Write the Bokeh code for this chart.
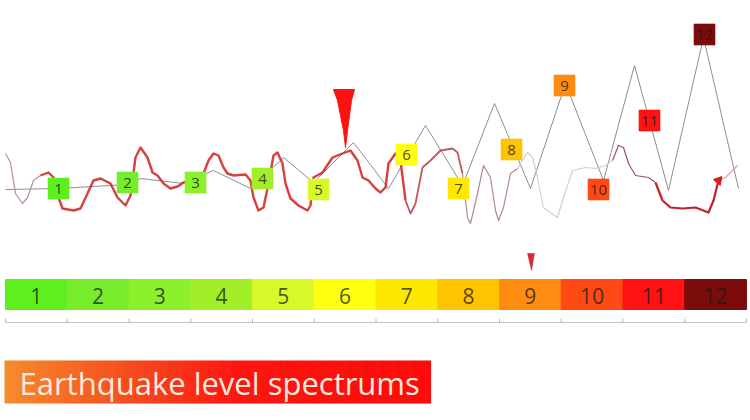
from bokeh.plotting import figure
from bokeh.models import Range1d, ColumnDataSource
from bokeh.core.properties import value
from bokeh.embed import file_html
from bokeh.resources import INLINE

# ---------------- data (picture pixel coordinates) ----------------
levels = ["1", "2", "3", "4", "5", "6", "7", "8", "9", "10", "11", "12"]
level_colors = ["#5ef01e", "#76ec2a", "#8cf02a", "#a2ee28", "#d8f82a", "#ffff12",
                "#ffe800", "#ffc400", "#ff8c10", "#ff4a16", "#ff1212", "#7c0c0c"]

# markers along the spectrum (label centre)
marker_x = [58, 127, 195, 262, 318, 406, 458, 511, 564, 598, 649, 704]
marker_y = [188, 182, 182, 178, 189, 154, 188, 149, 85, 189, 120, 34]

# grey zig-zag envelope
env_x = [5, 58, 127, 140, 183, 213, 250, 283, 313, 353, 388, 425, 462, 494, 530, 565, 603, 634, 668, 703, 738]
env_y = [189, 188, 184, 178, 183, 170, 188, 157, 182, 142, 188, 125, 185, 103, 188, 83, 180, 65, 190, 37, 188]

# seismic trace, split into stretches of different intensity
wave_a_x = [5, 10, 15, 22, 27, 33, 40]
wave_a_y = [153, 162, 193, 203, 197, 180, 175]
wave_b_x = [40, 48, 53, 58, 62, 73, 80, 87, 93, 100, 110, 117, 125, 130, 135, 140, 147, 152, 157, 163,
            170, 177, 183, 195, 203, 208, 213, 218, 223, 227, 233, 245, 250, 253, 258, 263, 268, 273,
            277, 282, 285, 290, 298, 307, 310, 313, 322, 332, 342, 350, 357, 362, 368, 375, 380, 385,
            388, 395, 400, 405]
wave_b_y = [175, 172, 177, 197, 208, 210, 208, 193, 180, 178, 183, 197, 205, 195, 157, 147, 157, 172, 175, 183,
            188, 186, 182, 178, 173, 160, 153, 155, 167, 173, 175, 174, 180, 197, 210, 207, 183, 155,
            152, 163, 183, 198, 205, 210, 205, 177, 172, 157, 153, 150, 160, 177, 180, 188, 192, 187,
            163, 153, 160, 200]
wave_c_x = [405, 410, 415, 422, 430, 440, 452, 457, 462]
wave_c_y = [200, 213, 203, 167, 160, 150, 148, 152, 173]
wave_d_x = [462, 467, 470, 477, 483, 490, 495, 498, 503, 510, 517]
wave_d_y = [173, 217, 223, 193, 165, 177, 210, 220, 207, 173, 168]
wave_e_x = [517, 527, 532, 537, 543, 557, 563, 572, 585, 595, 605, 612]
wave_e_y = [168, 152, 157, 177, 207, 217, 197, 170, 167, 168, 165, 160]
wave_f_x = [612, 618, 623, 628, 635, 648, 655]
wave_f_y = [160, 145, 147, 163, 175, 177, 182]
wave_g_x = [655, 662, 670, 682, 695, 708, 713, 718]
wave_g_y = [182, 200, 207, 208, 207, 212, 200, 180]
wave_h_x = [718, 725, 732, 737]
wave_h_y = [180, 177, 170, 165]

# big red pointer and small pointer over the scale
pointer_x = [333, 354, 351, 349, 347, 345, 343, 340, 337]
pointer_y = [89, 89, 100, 115, 130, 147, 130, 115, 100]
small_pointer_x = [527, 534, 531]
small_pointer_y = [253, 253, 270]

# scale bar extent
scale_left, scale_right = 5, 746
scale_top, scale_bottom = 279, 309
axis_y = 322

title_text = "Earthquake level spectrums"
title_left, title_right, title_top, title_bottom = 4, 430, 360, 403
title_stops = [(0.0, "#f58c2c"), (0.3, "#f64a1e"), (0.55, "#ff1410"), (1.0, "#ff0a0a")]

# ---------------- figure ----------------
W, H = 750, 420
p = figure(width=W, height=H, x_range=Range1d(0, W), y_range=Range1d(H, 0),
           x_axis_type=None, y_axis_type=None, toolbar_location=None,
           output_backend="svg", min_border=0)
p.grid.visible = False
p.outline_line_color = None
p.background_fill_color = "white"
p.border_fill_color = "white"

# envelope
p.line(env_x, env_y, line_color="#7a7a7a", line_width=1, line_alpha=0.85)

# wave
p.line(wave_a_x, wave_a_y, line_color="#b89090", line_width=1.2, line_join="round")
p.line(wave_b_x, wave_b_y, line_color="#d42a2a", line_width=2.4, line_join="round", line_alpha=0.9)
p.line(wave_c_x, wave_c_y, line_color="#b83a48", line_width=1.8, line_join="round", line_alpha=0.85)
p.line(wave_d_x, wave_d_y, line_color="#b08890", line_width=1.2, line_join="round")
p.line(wave_e_x, wave_e_y, line_color="#d8cccc", line_width=1.2, line_join="round")
p.line(wave_f_x, wave_f_y, line_color="#a05060", line_width=1.2, line_join="round")
p.line(wave_g_x, wave_g_y, line_color="#c81e28", line_width=2.2, line_join="round")
p.line(wave_h_x, wave_h_y, line_color="#d8a0a0", line_width=1.2, line_join="round")
p.scatter([wave_g_x[-1]], [wave_g_y[-1]], marker="triangle", size=9, angle=-0.7,
          fill_color="#e01818", line_color="#e01818")

# pointers
p.patch(pointer_x, pointer_y, fill_color="#ff1010", line_color="#ff1010", line_width=1)
p.patch(small_pointer_x, small_pointer_y, fill_color="#d8283c", line_color="#d8283c", line_width=0.5)

# level markers
msrc = ColumnDataSource(dict(x=marker_x, y=marker_y, c=level_colors, t=levels))
p.rect(x="x", y="y", width=21, height=21, fill_color="c", line_color="c", line_alpha=0.6, source=msrc)
p.text(x="x", y="y", text="t", text_align="center", text_baseline="middle",
       text_font=value("Open Sans"), text_font_size="15px", text_color="#1a1a1a", text_alpha=0.8, source=msrc)

# scale bar
n = len(levels)
seg = (scale_right - scale_left) / n
lefts = [scale_left + i * seg for i in range(n)]
rights = [l + seg for l in lefts]
centers = [l + seg / 2 for l in lefts]
ssrc = ColumnDataSource(dict(left=lefts, right=rights, cx=centers, c=level_colors, t=levels))
p.quad(left="left", right="right", top=scale_top, bottom=scale_bottom, fill_color="c",
       line_color="c", source=ssrc)
p.text(x="cx", y=(scale_top + scale_bottom) / 2 + 1, text="t", text_align="center",
       text_baseline="middle", text_font=value("Open Sans"), text_font_size="21px",
       text_color="#1a1a1a", text_alpha=0.75, source=ssrc)

# axis under the scale
bounds = lefts + [scale_right]
p.segment(x0=[scale_left], y0=[axis_y], x1=[scale_right], y1=[axis_y], line_color="#c4c4c4", line_width=1)
p.segment(x0=bounds, y0=[axis_y - 4] * len(bounds), x1=bounds, y1=[axis_y] * len(bounds),
          line_color="#b8b8b8", line_width=1)

# title banner with gradient
def lerp_color(c1, c2, t):
    a = [int(c1[i:i + 2], 16) for i in (1, 3, 5)]
    b = [int(c2[i:i + 2], 16) for i in (1, 3, 5)]
    return "#%02x%02x%02x" % tuple(round(a[k] + (b[k] - a[k]) * t) for k in range(3))

def grad(t):
    for (t0, c0), (t1, c1) in zip(title_stops[:-1], title_stops[1:]):
        if t <= t1:
            return lerp_color(c0, c1, (t - t0) / (t1 - t0))
    return title_stops[-1][1]

strips = 80
sw = (title_right - title_left) / strips
gl = [title_left + i * sw for i in range(strips)]
gr = [x + sw + 0.6 for x in gl]
gc = [grad((i + 0.5) / strips) for i in range(strips)]
p.quad(left=gl, right=gr, top=title_top, bottom=title_bottom, fill_color=gc, line_color=None)
p.text(x=[title_left + 15], y=[(title_top + title_bottom) / 2 + 1], text=[title_text],
       text_align="left", text_baseline="middle", text_font=value("Open Sans"),
       text_font_size="31px", text_color="#fdeadc")

open("out.html", "w").write(file_html(p, INLINE))
